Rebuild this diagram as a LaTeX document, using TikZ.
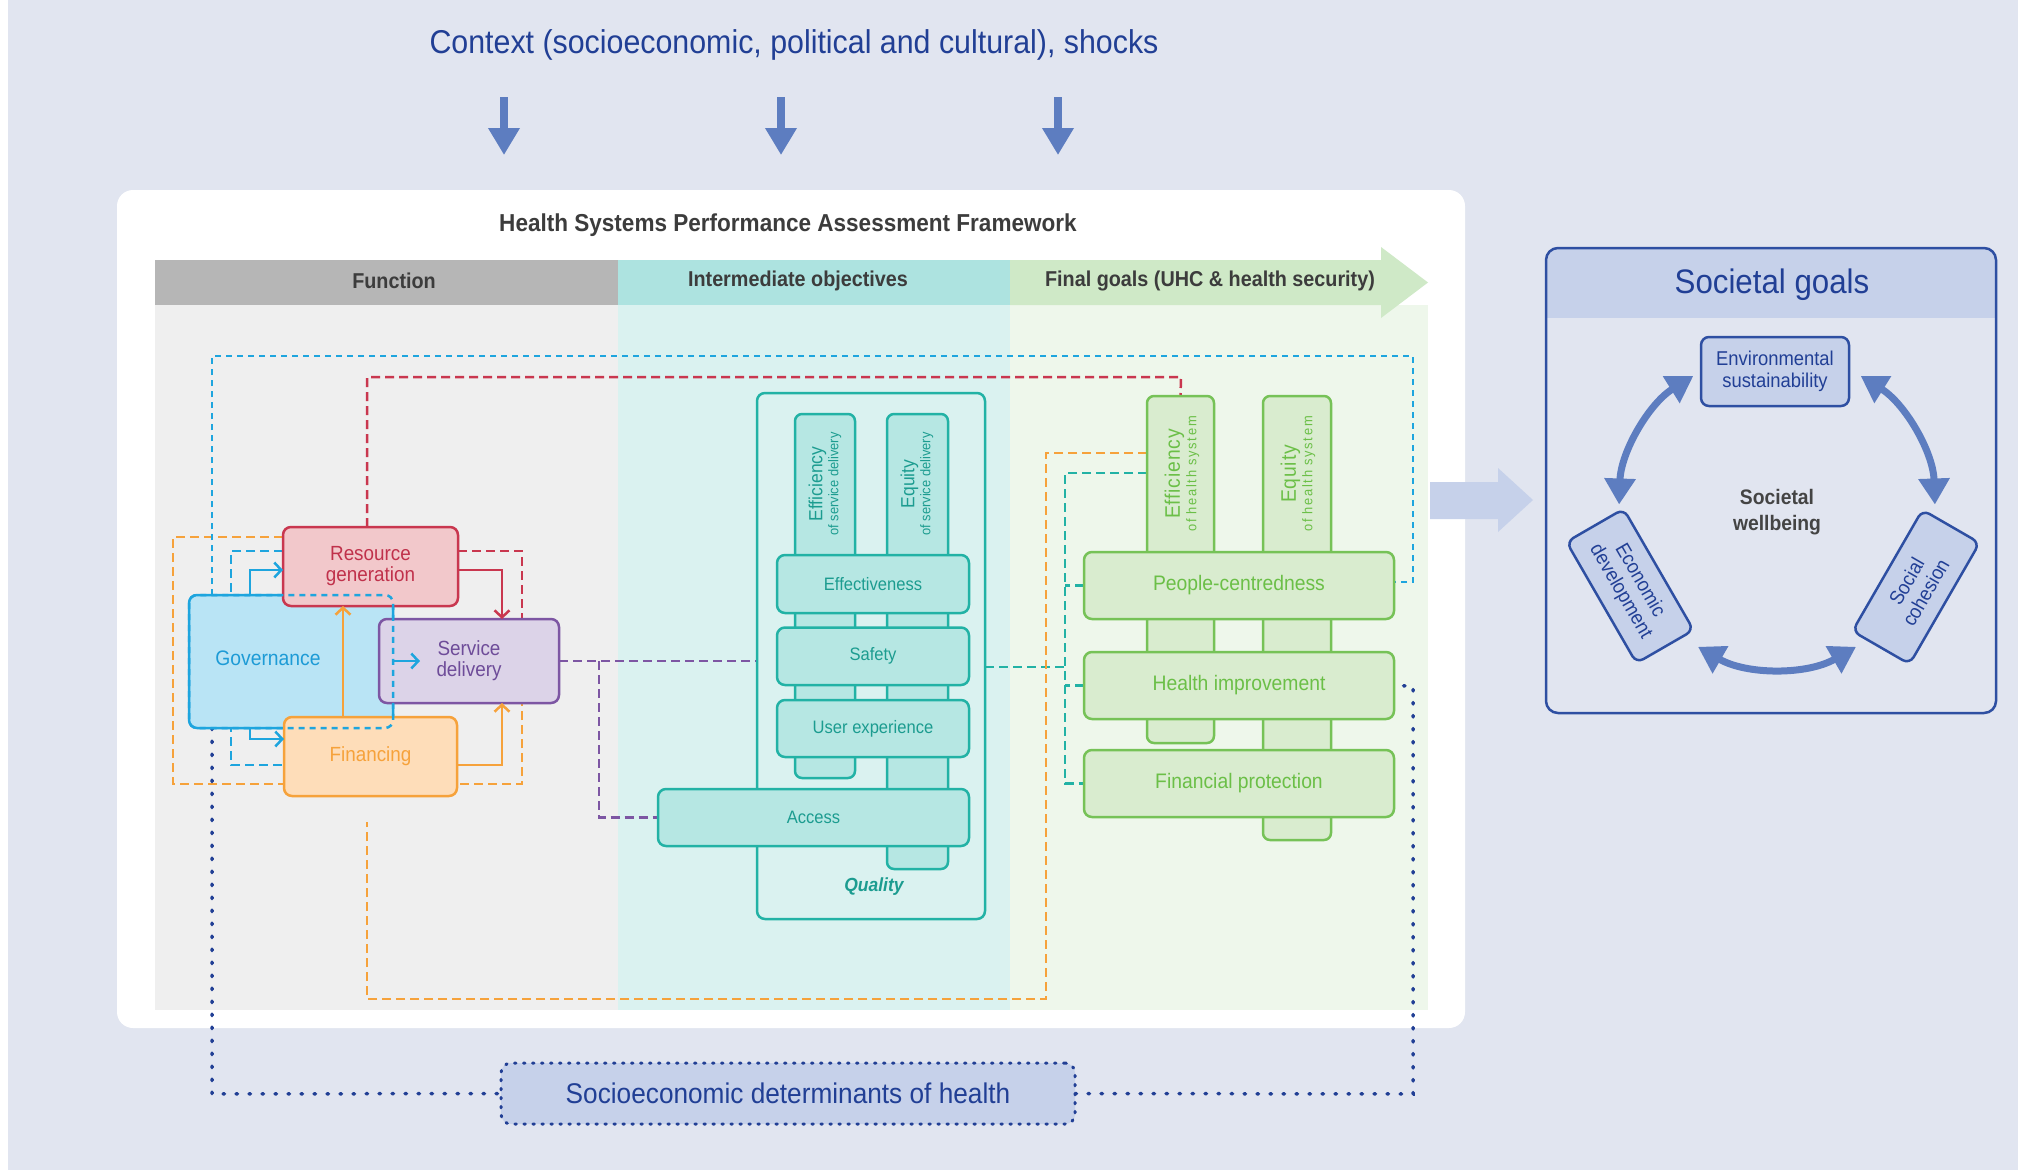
\documentclass[tikz,border=0pt]{standalone}
\usepackage{fontspec}
\setmainfont{Liberation Sans}[FakeStretch=0.92]
\usetikzlibrary{arrows.meta,fit}
\definecolor{bgc}{HTML}{E1E5F0}
\definecolor{navy}{HTML}{213F95}
\definecolor{sgblue}{HTML}{2E4FA2}
\definecolor{midblue}{HTML}{5D7DC0}
\definecolor{lblue}{HTML}{C6D1EA}
\definecolor{fungrey}{HTML}{B6B6B6}
\definecolor{funbody}{HTML}{EFEFEF}
\definecolor{inthead}{HTML}{ADE3E0}
\definecolor{intbody}{HTML}{DAF2F0}
\definecolor{finhead}{HTML}{CFE9C7}
\definecolor{finbody}{HTML}{EEF7EB}
\definecolor{hdrtext}{HTML}{3C3C3C}
\definecolor{crim}{HTML}{C9374F}
\definecolor{crimfill}{HTML}{F2C8CB}
\definecolor{crimtext}{HTML}{C0314B}
\definecolor{cyanc}{HTML}{1EA5DE}
\definecolor{cyanfill}{HTML}{B9E4F5}
\definecolor{cyantext}{HTML}{1D9BD6}
\definecolor{purp}{HTML}{7D56A3}
\definecolor{purpfill}{HTML}{DCD3E8}
\definecolor{purptext}{HTML}{6E4C99}
\definecolor{orng}{HTML}{F6A23B}
\definecolor{orngfill}{HTML}{FEDDB9}
\definecolor{tealc}{HTML}{22B2A5}
\definecolor{tealfill}{HTML}{B6E7E3}
\definecolor{tealtext}{HTML}{1C9C90}
\definecolor{grn}{HTML}{76C257}
\definecolor{grnfill}{HTML}{D9ECCF}
\definecolor{grntext}{HTML}{6BBF47}
\definecolor{wbtext}{HTML}{444444}
\newcommand\fsz[2]{\fontsize{#1}{#2}\selectfont}
\pgfdeclarelayer{back}
\pgfdeclarelayer{mid}
\pgfsetlayers{back,mid,main}
\begin{document}
\begin{tikzpicture}[x=1pt,y=-1pt,
  box/.style={rounded corners=8pt, line width=2.5pt, inner sep=0pt, outer sep=0pt, align=center},
  col/.style={rounded corners=7pt, line width=2.5pt, inner sep=0pt, outer sep=0pt},
  dsh/.style={line width=2.5pt, dash pattern=on 9pt off 5pt},
  cdot/.style={cyanc, line width=2.5pt, dash pattern=on 6pt off 5pt},
  ndot/.style={navy, line width=3.5pt, line cap=round, dash pattern=on 1.5pt off 11.5pt},
  flow/.style={line width=2.5pt, -{Straight Barb[length=7pt,width=15pt]}},
  ctxarr/.style={midblue, line width=8pt, -{Triangle[length=27pt,width=30pt]}},
  sarr/.style={midblue, line width=7pt, {Triangle[length=26pt,width=30pt]}-{Triangle[length=26pt,width=30pt]}},
  hdr/.style={text=hdrtext, font=\bfseries\fsz{21.5}{24}},
  tealbox/.style={box, draw=tealc, fill=tealfill, text=tealtext, font=\fsz{18}{20}, minimum width=192pt},
  grnbox/.style={box, draw=grn, fill=grnfill, text=grntext, font=\fsz{21}{23}, minimum width=310pt, minimum height=67pt},
]
\useasboundingbox (0,0) rectangle (2018,1170);
\begin{pgfonlayer}{back}
\fill[bgc] (0,0) rectangle (2018,1170);
\fill[white] (0,0) rectangle (8,1170);
\fill[white, rounded corners=16pt] (117,190) rectangle (1465,1028);
\fill[funbody] (155,305) rectangle (618,1010);
\fill[intbody] (618,305) rectangle (1010,1010);
\fill[finbody] (1010,305) rectangle (1428,1010);
\fill[fungrey] (155,260) rectangle (618,305);
\fill[inthead] (618,260) rectangle (1010,305);
\fill[finhead] (1010,260) -- (1381,260) -- (1381,247) -- (1428,282.5) -- (1381,318) -- (1381,305) -- (1010,305) -- cycle;
\fill[lblue] (1430,482) -- (1498,482) -- (1498,468) -- (1533,500) -- (1498,532) -- (1498,519) -- (1430,519) -- cycle;
\end{pgfonlayer}

% context
\node[text=navy, font=\fsz{33}{38}] (ctx) at (794,45) {Context (socioeconomic, political and cultural), shocks};
\coordinate (a1s) at (504,97); \coordinate (a1e) at (504,155);
\coordinate (a2s) at (781,97); \coordinate (a2e) at (781,155);
\coordinate (a3s) at (1058,97); \coordinate (a3e) at (1058,155);
\draw[ctxarr] (a1s) -- (a1e);
\draw[ctxarr] (a2s) -- (a2e);
\draw[ctxarr] (a3s) -- (a3e);

\node[text=hdrtext, font=\bfseries\fsz{24.5}{28}] (ttl) at (788,225) {Health Systems Performance Assessment Framework};
\node[hdr] (hfun) at (394,281) {Function};
\node[hdr] (hint) at (798,281) {Intermediate objectives};
\node[hdr] (hfin) at (1210,281) {Final goals (UHC \& health security)};

% function boxes
\node[box, draw=cyanc, fill=cyanfill, fit={(189,595) (393,728)}] (gov) {};
\node[text=cyantext, font=\fsz{21}{22}] (govt) at (268,658) {Governance};
\node[box, draw=crim, fill=crimfill, text=crimtext, font=\fsz{20.5}{21}, minimum width=175pt, minimum height=79pt] (res) at (370.5,566.5) {Resource\\generation};
\node[box, draw=purp, fill=purpfill, text=purptext, font=\fsz{20.5}{21}, minimum width=180pt, minimum height=84pt] (svc) at (469,661) {Service\\delivery};
\node[box, draw=orng, fill=orngfill, text=orng, font=\fsz{20.5}{21}, minimum width=173pt, minimum height=79pt] (fin) at (370.5,756.5) {Financing};
\draw[cyanc, line width=2.5pt, dash pattern=on 6pt off 5pt, rounded corners=8pt] (gov.north west) rectangle (gov.south east);

\draw[flow, cyanc] ([xshift=61pt]gov.north west) |- ([yshift=-43pt]res.north west);
\draw[flow, cyanc] ([xshift=61pt]gov.south west) |- ([yshift=-22pt]fin.north west);
\draw[flow, cyanc] (gov.east |- svc.center) -- ++(27pt,0pt);
\draw[flow, crim] ([yshift=-43pt]res.north east) -| ([xshift=123pt]svc.north west);
\draw[flow, orng] ([xshift=59pt]fin.north west) -- ([xshift=60pt]res.south west);
\draw[flow, orng] ([yshift=-48pt]fin.north east) -| ([xshift=123pt]svc.south west);

% intermediate objectives
\node[box, draw=tealc, fill=intbody, fit={(757,393) (985,919)}] (qual) {};
\node[col, draw=tealc, fill=tealfill, fit={(795,414) (855,778)}] (effSD) {};
\node[col, draw=tealc, fill=tealfill, fit={(887,414) (948,869)}] (eqSD) {};
\node[rotate=90, align=center, text=tealtext] (effSDt) at (825,484) {\fsz{19}{19}Efficiency\\[1pt]\fsz{14}{14}of service delivery};
\node[rotate=90, align=center, text=tealtext] (eqSDt) at (917,484) {\fsz{19}{19}Equity\\[1pt]\fsz{14}{14}of service delivery};
\node[tealbox, minimum height=58pt] (eff) at (873,584) {Effectiveness};
\node[tealbox, minimum height=57.5pt] (safe) at (873,656.25) {Safety};
\node[tealbox, minimum height=57pt] (ux) at (873,728.5) {User experience};
\node[tealbox, minimum height=57pt, minimum width=311pt] (acc) at (813.5,817.5) {Access};
\node[text=tealtext, font=\bfseries\itshape\fsz{19}{20}] (qlab) at (874,887) {Quality};

% final goals
\node[col, draw=grn, fill=grnfill, fit={(1147,396) (1214,743)}] (effHS) {};
\node[col, draw=grn, fill=grnfill, fit={(1263,396) (1331,840)}] (eqHS) {};
\node[rotate=90, align=center, text=grntext] (effHSt) at (1182,474) {\fsz{21}{21}\addfontfeature{LetterSpace=4}Efficiency\\[1pt]\fsz{14}{14}\addfontfeature{LetterSpace=12}of health system};
\node[rotate=90, align=center, text=grntext] (eqHSt) at (1298,474) {\fsz{21}{21}\addfontfeature{LetterSpace=4}Equity\\[1pt]\fsz{14}{14}\addfontfeature{LetterSpace=12}of health system};
\node[grnbox] (pc) at (1239,585.5) {People-centredness};
\node[grnbox] (hi) at (1239,685.5) {Health improvement};
\node[grnbox] (fp) at (1239,783.5) {Financial protection};

% socioeconomic determinants
\node[box, rounded corners=10pt, fill=lblue, draw=navy, line width=3pt, line cap=round, dash pattern=on 1.5pt off 7.5pt, text=navy, font=\fsz{28.5}{30}, minimum width=574pt, minimum height=61pt] (sed) at (788,1093.5) {Socioeconomic determinants of health};

% connectors
\begin{pgfonlayer}{mid}
\coordinate (oTL) at (173,537); \coordinate (oBL) at (173,784); \coordinate (oBR) at (522,784);
\draw[dsh, orng] ([yshift=-10pt]res.north west) -- (oTL) -- (oBL) -- (oBR) -- (oBR |- svc.south);
\coordinate (cTL) at (231,551); \coordinate (cBL) at (231,765);
\draw[dsh, cyanc] ([yshift=-24pt]res.north west) -- (cTL) -- (cBL) -- ([yshift=-48pt]fin.north west);
\coordinate (rR) at (522,551);
\draw[dsh, crim] ([yshift=-24pt]res.north east) -- (rR) -- (rR |- svc.north);
\coordinate (bTL) at (212,356); \coordinate (bTR) at (1413,356); \coordinate (bR) at (1413,582);
\draw[cdot] ([xshift=23pt]gov.north west) -- (bTL) -- (bTR) -- (bR) -- ([yshift=-30pt]pc.north east);
\coordinate (nBL) at (212,1094); \coordinate (nBR) at (1413,1094); \coordinate (nR) at (1413,686);
\draw[ndot] ([xshift=23pt]gov.south west) -- (nBL) -- (sed.west);
\draw[ndot] (sed.east) -- (nBR) -- (nR) -- (hi.east);
\coordinate (kL) at (367,377); \coordinate (kR) at (1181,377);
\draw[dsh, crim] ([xshift=84pt]res.north west) -- (kL) -- (kR) -- (effHS.north);
\coordinate (pJ) at (599,0);
\draw[dsh, purp] (svc.east) -- (qual.west |- svc.east);
\draw[dsh, purp] (pJ |- svc.east) -- (pJ |- acc.west) -- (acc.west);
\coordinate (tT) at (1065,473); \coordinate (tB) at (1065,783.5); \coordinate (tM) at (1065,667);
\draw[dsh, tealc] ([yshift=-11pt]qual.east) -- (tM);
\draw[dsh, tealc] ([yshift=-77pt]effHS.north west) -- (tT) -- (tB) -- (fp.west);
\draw[dsh, tealc] (pc.west) -- ++(-19pt,0pt);
\draw[dsh, tealc] (hi.west) -- ++(-19pt,0pt);
\coordinate (gT) at (1046,453); \coordinate (gB) at (1046,999); \coordinate (gL) at (367,999); \coordinate (gE) at (367,822);
\draw[dsh, orng] ([yshift=-57pt]effHS.north west) -- (gT) -- (gB) -- (gL) -- (gE);
\end{pgfonlayer}

% societal goals
\begin{scope}
\clip[rounded corners=12pt] (1546,248) rectangle (1996,713);
\fill[lblue] (1546,248) rectangle (1996,318);
\end{scope}
\draw[sgblue, line width=2.5pt, rounded corners=12pt] (1546,248) rectangle (1996,713);
\node[text=navy, font=\fsz{34}{36}] (sgt) at (1772,285) {Societal goals};
\node[box, draw=sgblue, fill=lblue, text=navy, font=\fsz{20}{22}, minimum width=148pt, minimum height=69pt] (env) at (1775,371.5) {Environmental\\sustainability};
\node[box, draw=sgblue, fill=lblue, text=navy, font=\fsz{20}{22}, minimum width=140pt, minimum height=66pt, rotate=-60] (econ) at (1630,586) {Economic\\development};
\node[box, draw=sgblue, fill=lblue, text=navy, font=\fsz{20}{22}, minimum width=140pt, minimum height=66pt, rotate=60] (soc) at (1916,587) {Social\\cohesion};
\node[align=center, text=wbtext, font=\bfseries\fsz{21}{26}] (wb) at (1777,512) {Societal\\wellbeing};
\coordinate (wc) at (1777,510);
\draw[sarr] ([shift={(122:158pt)}]wc) arc[start angle=122, end angle=178, radius=158pt];
\draw[sarr] ([shift={(58:158pt)}]wc) arc[start angle=58, end angle=2, radius=158pt];
\draw[sarr] ([shift={(240:158pt)}]wc) arc[start angle=240, end angle=300, radius=158pt];
\end{tikzpicture}
\end{document}
